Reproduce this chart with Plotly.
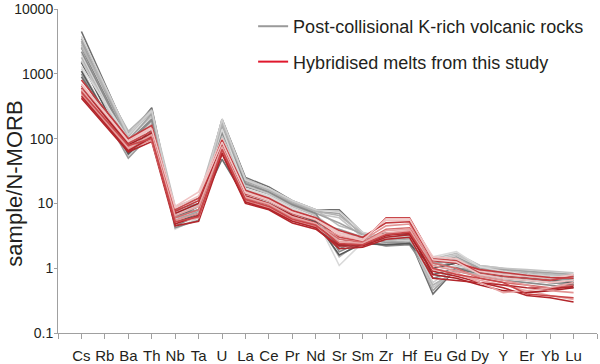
import plotly.graph_objects as go

elements = ["Cs", "Rb", "Ba", "Th", "Nb", "Ta", "U", "La", "Ce", "Pr", "Nd",
            "Sr", "Sm", "Zr", "Hf", "Eu", "Gd", "Dy", "Y", "Er", "Yb", "Lu"]

# Post-collisional K-rich volcanic rocks (sample / N-MORB)
gray_series = [
    [4500, 700, 110, 300, 6, 9, 200, 25, 18, 11, 8, 8, 3.5, 2.5, 2.8, 0.4, 1.0, 0.9, 0.8, 0.7, 0.6, 0.55],
    [3500, 650, 120, 250, 7, 10, 180, 22, 16, 10, 7.5, 7, 3.2, 2.6, 3.0, 0.45, 1.0, 0.9, 0.85, 0.75, 0.7, 0.65],
    [3000, 550, 100, 220, 5, 8, 150, 20, 15, 9.5, 7, 6, 3.0, 2.4, 2.7, 0.5, 0.95, 0.85, 0.8, 0.7, 0.65, 0.6],
    [2500, 470, 90, 200, 4.5, 6.5, 120, 18, 14, 9, 6.5, 2.0, 2.8, 3.0, 3.2, 1.2, 1.3, 1.0, 0.9, 0.8, 0.75, 0.7],
    [2000, 400, 80, 180, 4, 6, 100, 17, 13, 8.5, 6, 1.1, 2.5, 2.2, 2.5, 1.3, 1.6, 1.05, 0.95, 0.9, 0.85, 0.8],
    [1800, 350, 70, 160, 6, 7, 90, 16, 12, 8, 5.8, 1.5, 2.7, 2.8, 3.0, 1.1, 1.4, 1.0, 0.9, 0.85, 0.8, 0.75],
    [1500, 300, 60, 140, 5, 7, 80, 15, 11, 7, 5.5, 2.5, 3.0, 3.5, 3.3, 1.0, 1.2, 0.95, 0.85, 0.8, 0.7, 0.7],
    [1200, 260, 55, 130, 7, 9, 70, 14, 10.5, 7, 5, 3.0, 2.8, 2.6, 2.7, 0.9, 1.1, 0.9, 0.8, 0.7, 0.65, 0.6],
    [1000, 220, 50, 120, 8, 10, 60, 13, 10, 6.5, 4.8, 4.0, 3.0, 2.5, 2.5, 1.0, 1.3, 0.95, 0.85, 0.75, 0.7, 0.65],
    [2800, 550, 110, 260, 9, 12, 190, 24, 17, 11, 8, 4.5, 3.5, 3.0, 2.8, 1.4, 1.7, 1.1, 1.0, 0.9, 0.8, 0.75],
    [900, 240, 65, 110, 6.5, 8, 48, 12, 9.5, 6, 4.5, 2.2, 2.5, 2.3, 2.4, 0.8, 1.0, 0.8, 0.7, 0.65, 0.6, 0.55],
    [3200, 550, 95, 240, 5.5, 7.5, 160, 21, 15, 10, 7, 5.0, 3.3, 2.8, 3.0, 1.2, 1.5, 1.0, 0.95, 0.9, 0.85, 0.8],
    [1600, 350, 75, 170, 7.5, 9.5, 110, 19, 14, 9, 6.5, 3.5, 3.0, 2.9, 3.1, 1.3, 1.6, 1.1, 1.0, 0.95, 0.9, 0.85],
    [2200, 430, 85, 190, 4.2, 5.5, 130, 20, 15, 9.5, 7, 1.8, 2.6, 2.2, 2.3, 0.7, 0.9, 0.75, 0.65, 0.6, 0.55, 0.5],
    [1300, 360, 100, 150, 8.5, 11, 140, 17, 12.5, 8, 6, 2.8, 3.2, 3.3, 3.5, 1.5, 1.8, 1.05, 0.9, 0.8, 0.75, 0.7],
    [2600, 580, 130, 280, 6, 8, 170, 23, 16, 10.5, 7.5, 6.5, 3.4, 2.7, 2.9, 0.55, 0.9, 0.8, 0.75, 0.7, 0.6, 0.6],
    [1100, 250, 58, 125, 5, 6.5, 65, 14.5, 11, 7.2, 5.2, 1.6, 2.4, 2.3, 2.4, 1.0, 1.2, 0.85, 0.75, 0.7, 0.65, 0.6],
    [3800, 660, 115, 270, 7, 9, 200, 23, 17, 11, 8, 7.5, 3.6, 2.9, 3.1, 0.6, 1.1, 0.95, 0.85, 0.8, 0.75, 0.7],
]

# Hybridised melts from this study (sample / N-MORB)
red_series = [
    [420, 160, 62, 90, 4.5, 5.3, 58, 10, 8, 5, 4, 2.2, 2.2, 3.0, 3.3, 0.9, 0.75, 0.6, 0.5, 0.38, 0.35, 0.3],
    [500, 190, 70, 100, 5, 6, 70, 11, 8.5, 5.5, 4.3, 2.5, 2.4, 3.5, 3.8, 1.0, 0.8, 0.65, 0.55, 0.45, 0.38, 0.33],
    [650, 235, 85, 130, 8, 12, 90, 14, 11, 7, 5.5, 3.0, 2.6, 6.0, 6.0, 1.4, 1.3, 0.85, 0.75, 0.7, 0.65, 0.75],
    [700, 260, 95, 150, 9, 15, 100, 15, 11.5, 7.5, 5.8, 3.5, 2.8, 5.5, 5.5, 1.5, 1.4, 0.9, 0.8, 0.75, 0.7, 0.8],
    [550, 200, 75, 110, 6, 8, 80, 12, 9.5, 6, 4.8, 2.8, 2.5, 4.0, 4.2, 1.2, 1.0, 0.7, 0.6, 0.55, 0.5, 0.55],
    [600, 220, 80, 120, 7, 10, 85, 13, 10, 6.5, 5, 2.3, 2.3, 3.2, 3.5, 0.8, 0.7, 0.55, 0.45, 0.42, 0.45, 0.5],
    [480, 180, 68, 95, 5.5, 7, 65, 11, 8.8, 5.8, 4.5, 3.2, 2.7, 4.5, 4.8, 1.1, 0.9, 0.75, 0.65, 0.55, 0.45, 0.42],
    [800, 280, 100, 160, 7.5, 11, 95, 16, 12, 7.8, 6, 3.8, 3.0, 5.0, 5.2, 1.3, 1.2, 0.95, 0.85, 0.78, 0.72, 0.7],
    [450, 170, 65, 105, 4.8, 6.5, 60, 10.5, 8.2, 5.3, 4.2, 2.0, 2.1, 2.8, 3.0, 0.7, 0.65, 0.6, 0.55, 0.5, 0.48, 0.52],
    [580, 205, 72, 115, 6.5, 9, 75, 12.5, 9.8, 6.2, 4.9, 2.6, 2.4, 3.8, 4.0, 0.95, 0.85, 0.6, 0.42, 0.45, 0.5, 0.6],
    [520, 200, 78, 100, 5.2, 6.2, 68, 11.5, 9, 5.7, 4.6, 2.4, 2.3, 3.3, 3.6, 1.0, 0.8, 0.7, 0.6, 0.4, 0.37, 0.35],
    [680, 250, 90, 140, 8.5, 13, 88, 14.5, 11, 7.2, 5.6, 3.3, 2.7, 5.8, 5.8, 1.35, 1.25, 0.8, 0.7, 0.65, 0.6, 0.65],
]

gray_colors = ["#6e6e6e", "#a3a3a3", "#c4c4c4", "#8a8a8a", "#d9d9d9", "#b3b3b3",
               "#585858", "#cfcfcf", "#9a9a9a", "#bdbdbd"]
red_colors = ["#b3262b", "#e8a6a6", "#c9474a", "#f0c4c4", "#d46a6a", "#a82025",
              "#e29494", "#c23a3e"]

legend_names = ["Post-collisional K-rich volcanic rocks", "Hybridised melts from this study"]
legend_colors = ["#9a9a9a", "#e0182d"]

xs = list(range(len(elements)))
fig = go.Figure()

for i, vals in enumerate(gray_series):
    fig.add_trace(go.Scatter(x=xs, y=vals, mode="lines",
                             line=dict(color=gray_colors[i % len(gray_colors)], width=1.6),
                             showlegend=False, hoverinfo="skip"))
for i, vals in enumerate(red_series):
    fig.add_trace(go.Scatter(x=xs, y=vals, mode="lines",
                             line=dict(color=red_colors[i % len(red_colors)], width=1.6),
                             showlegend=False, hoverinfo="skip"))

for name, col in zip(legend_names, legend_colors):
    fig.add_trace(go.Scatter(x=[None], y=[None], mode="lines", name=name,
                             legendgroup=name, line=dict(color=col, width=2)))

fig.add_shape(type="line", xref="paper", yref="y", x0=0, x1=1, y0=0, y1=0,
              line=dict(color="#555555", width=1.2, dash="dot"))

fig.add_annotation(text="sample/N-MORB", xref="paper", yref="paper",
                   x=0, y=0.461, xanchor="center", yanchor="middle",
                   xshift=-43, textangle=-90, showarrow=False,
                   font=dict(size=22, color="#231f20"))

tickvals = list(range(-1, len(elements) + 1))
ticktext = [""] + elements + [""]

fig.update_layout(
    width=600, height=364,
    margin=dict(l=58, r=3, t=9, b=31, autoexpand=False),
    paper_bgcolor="white", plot_bgcolor="white",
    font=dict(family="Liberation Sans, Arial, sans-serif", color="#231f20"),
    legend=dict(x=0.362, y=1.003, xanchor="left", yanchor="top",
                font=dict(size=18, color="#231f20"), tracegroupgap=9,
                bgcolor="rgba(0,0,0,0)"),
    xaxis=dict(range=[-1, len(elements)], tickvals=tickvals, ticktext=ticktext,
               automargin=False, ticklabelstandoff=4,
               showgrid=False, zeroline=False, showline=True, linecolor="#a0a0a0",
               linewidth=1, ticks="outside", ticklen=5, tickcolor="#a0a0a0",
               tickfont=dict(size=15, color="#231f20")),
    yaxis=dict(type="log", range=[-1, 4], automargin=False, ticklabelstandoff=-2,
               tickvals=[0.1, 1, 10, 100, 1000, 10000],
               ticktext=["0.1", "1", "10", "100", "1000", "10000"],
               showgrid=False, zeroline=False, showline=True, linecolor="#a0a0a0",
               linewidth=1, ticks="outside", ticklen=3, tickcolor="#a0a0a0",
               tickfont=dict(size=14, color="#231f20")),
)

fig.write_html("out.html", config={"displayModeBar": False},
               post_script="document.body.style.margin='0';")
